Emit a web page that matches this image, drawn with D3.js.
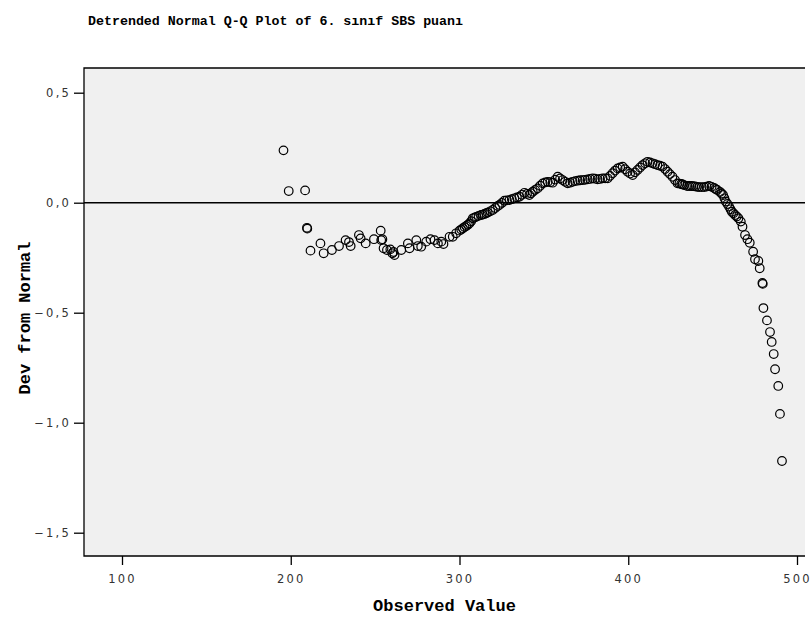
<!DOCTYPE html>
<html>
<head>
<meta charset="utf-8">
<script src="https://cdn.jsdelivr.net/npm/d3@7/dist/d3.min.js"></script>
<style>
  html, body { margin: 0; padding: 0; background: #ffffff; }
  svg { display: block; }
  .tick text { font-family: "DejaVu Sans", sans-serif; font-size: 11.5px; letter-spacing: 2.2px; fill: #333; }
  .ttl { font-family: "Liberation Mono", "Courier New", monospace; font-weight: bold; fill: #000; }
</style>
</head>
<body>
<svg id="chart" width="812" height="626"></svg>
<script>
// Observed values (SBS score) and their deviation from the normal expectation
const observed = [
  195.7, 198.8, 208.5, 209.6, 209.8, 211.7, 217.6, 219.5, 224.4, 228.6,
  232.5, 234.5, 235.5, 240.4, 241.4, 244.4, 249.3, 253.3, 254.3, 253.6,
  255.0, 257.0, 259.0, 260.2, 261.5, 260.9, 265.5, 269.4, 270.4, 274.4,
  275.3, 277.3, 280.3, 282.8, 285.2, 287.2, 289.2, 290.5, 294.1, 296.0,
  298.0, 300.0, 302.0, 304.0, 305.9, 307.9, 309.9, 312.8, 314.8, 316.7,
  319.7, 322.7, 323.7, 326.6, 329.6, 332.5, 335.5, 338.5, 341.4, 343.4,
  346.3, 349.3, 352.3, 355.2, 358.2, 361.1, 364.1, 367.0, 370.0, 373.0,
  375.9, 378.9, 381.8, 384.8, 387.8, 390.7, 393.7, 396.7, 399.6, 402.6,
  405.5, 408.5, 411.4, 414.4, 417.3, 420.3, 423.3, 426.2, 429.2, 431.4,
  433.1, 434.9, 437.3, 439.6, 442.0, 445.0, 447.9, 450.9, 452.7, 454.4,
  456.2, 457.8, 459.8, 461.4, 463.3, 465.3, 466.7, 467.7, 469.2, 470.6,
  472.0, 474.0, 475.1, 477.1, 477.9, 479.5, 479.7, 480.1, 482.2, 484.0,
  485.0, 486.2, 487.0, 488.9, 489.9, 491.1,
  301.0, 303.0, 305.0, 306.9, 308.9, 311.3, 313.8, 315.8, 318.2, 321.2,
  325.1, 328.1, 331.0, 334.0, 337.0, 340.0, 342.4, 344.8, 347.8, 350.8,
  353.8, 356.7, 359.6, 362.6, 365.5, 368.5, 371.5, 374.4, 377.4, 380.3,
  383.3, 386.3, 389.2, 392.2, 395.2, 398.1, 401.1, 404.0, 407.0, 410.0,
  412.9, 415.9, 418.8, 421.8, 424.7, 427.7, 430.3, 432.2, 436.1, 438.4,
  440.8, 443.5, 446.4, 449.4, 451.8, 455.3, 457.0, 458.8, 460.6, 462.3,
  464.3
];
const deviation = [
   0.238,  0.053,  0.056, -0.114, -0.118, -0.218, -0.185, -0.230, -0.215, -0.197,
  -0.170, -0.179, -0.197, -0.147, -0.162, -0.185, -0.166, -0.127, -0.166, -0.170,
  -0.207, -0.215, -0.212, -0.230, -0.238, -0.224, -0.215, -0.185, -0.207, -0.170,
  -0.197, -0.200, -0.177, -0.166, -0.170, -0.185, -0.177, -0.188, -0.155, -0.155,
  -0.139, -0.127, -0.116, -0.106, -0.094, -0.071, -0.064, -0.056, -0.051, -0.045,
  -0.033, -0.015, -0.010,  0.009,  0.012,  0.020,  0.027,  0.045,  0.035,  0.050,
   0.065,  0.088,  0.095,  0.091,  0.118,  0.103,  0.088,  0.095,  0.100,  0.103,
   0.106,  0.111,  0.106,  0.111,  0.111,  0.134,  0.156,  0.164,  0.141,  0.126,
   0.149,  0.171,  0.186,  0.179,  0.171,  0.164,  0.141,  0.118,  0.088,  0.085,
   0.080,  0.076,  0.076,  0.074,  0.071,  0.071,  0.076,  0.067,  0.058,  0.049,
   0.035,  0.005, -0.018, -0.041, -0.056, -0.071, -0.086, -0.109, -0.147, -0.166,
  -0.182, -0.223, -0.257, -0.265, -0.298, -0.365, -0.369, -0.479, -0.535, -0.588,
  -0.633, -0.688, -0.757, -0.833, -0.960, -1.174,
  -0.122, -0.111, -0.100, -0.084, -0.068, -0.060, -0.054, -0.048, -0.039, -0.024,
  -0.001,  0.011,  0.016,  0.024,  0.036,  0.040,  0.043,  0.058,  0.077,  0.092,
   0.093,  0.105,  0.110,  0.095,  0.091,  0.098,  0.102,  0.104,  0.108,  0.109,
   0.108,  0.111,  0.122,  0.146,  0.160,  0.152,  0.133,  0.138,  0.160,  0.179,
   0.183,  0.175,  0.168,  0.153,  0.130,  0.103,  0.087,  0.083,  0.076,  0.075,
   0.072,  0.071,  0.073,  0.072,  0.062,  0.042,  0.020, -0.006, -0.030, -0.048,
  -0.063
];
const xTicks = [100, 200, 300, 400, 500];
const yTicks = [-1.5, -1.0, -0.5, 0.0, 0.5];

const titleText = "Detrended Normal Q-Q Plot of 6. sınıf SBS puanı";
const xTitle = "Observed Value";
const yTitle = "Dev from Normal";

const svg = d3.select("#chart");
const plot = { left: 84, right: 805, top: 68, bottom: 556 };

const x = d3.scaleLinear().domain([100, 500]).range([122, 797]);
const y = d3.scaleLinear().domain([-1.5, 0.5]).range([532.7, 92.7]);

// Turkish decimal comma for the deviation labels
const fmtY = v => d3.format(".1f")(v).replace("-", "\u2212").replace(".", ",");

svg.append("rect").attr("width", 812).attr("height", 626).attr("fill", "#fff");

// plot background
svg.append("rect")
  .attr("x", plot.left).attr("y", plot.top)
  .attr("width", plot.right - plot.left).attr("height", plot.bottom - plot.top)
  .attr("fill", "#f0f0f0");

// frame: top, left, bottom
svg.append("path")
  .attr("d", `M${plot.right},${plot.top}H${plot.left}V${plot.bottom}H${plot.right}`)
  .attr("fill", "none").attr("stroke", "#000").attr("stroke-width", 1.3);

// axes
const xAxis = d3.axisBottom(x).tickValues(xTicks).tickSize(9).tickSizeOuter(0).tickPadding(10)
  .tickFormat(d3.format("d"));
const gx = svg.append("g").attr("transform", `translate(0,${plot.bottom})`).call(xAxis);
gx.select(".domain").remove();
gx.selectAll(".tick line").attr("stroke", "#000").attr("stroke-width", 1.3);

const yAxis = d3.axisLeft(y).tickValues(yTicks).tickSize(10).tickSizeOuter(0).tickPadding(3)
  .tickFormat(fmtY);
const gy = svg.append("g").attr("transform", `translate(${plot.left},0)`).call(yAxis);
gy.select(".domain").remove();
gy.selectAll(".tick line").attr("stroke", "#000").attr("stroke-width", 1.3);

// zero reference line
svg.append("line")
  .attr("x1", plot.left).attr("x2", plot.right)
  .attr("y1", y(0)).attr("y2", y(0))
  .attr("stroke", "#000").attr("stroke-width", 1.5);

// points
const pts = observed.map((v, i) => ({ v, d: deviation[i] }));
svg.append("g").selectAll("circle").data(pts).join("circle")
  .attr("cx", p => x(p.v)).attr("cy", p => y(p.d)).attr("r", 4.3)
  .attr("fill", "none").attr("stroke", "#000").attr("stroke-width", 1.2);

// titles
svg.append("text").attr("class", "ttl").attr("x", 88).attr("y", 25)
  .attr("font-size", 13.3).text(titleText);
svg.append("text").attr("class", "ttl").attr("x", (plot.left + plot.right) / 2).attr("y", 611)
  .attr("text-anchor", "middle").attr("font-size", 17).text(xTitle);
svg.append("text").attr("class", "ttl")
  .attr("transform", `translate(30,318) rotate(-90)`)
  .attr("text-anchor", "middle").attr("font-size", 17).text(yTitle);
</script>
</body>
</html>
